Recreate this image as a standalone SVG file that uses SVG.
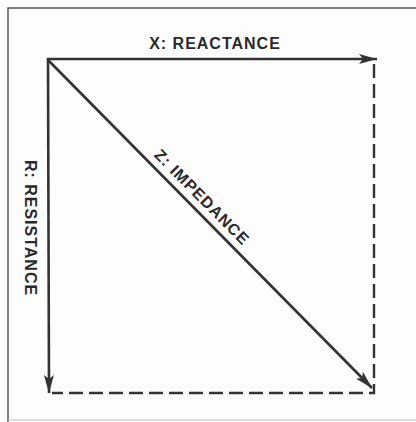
<svg xmlns="http://www.w3.org/2000/svg" width="416" height="422" viewBox="0 0 416 422">
<style>
.frame{fill:none;stroke:#555;stroke-width:1.5}
.vec{fill:none;stroke:#333;stroke-width:2.6}
.dash{fill:none;stroke:#333;stroke-width:2.4;stroke-dasharray:14 6}
.lbl{font-family:"Liberation Sans",Arial,sans-serif;font-weight:bold;font-size:16px;fill:#2a2a2a;letter-spacing:1px}
</style>
<defs>
<marker id="ah" viewBox="0 0 18 10" refX="18" refY="5" markerWidth="18" markerHeight="10" markerUnits="userSpaceOnUse" orient="auto">
<path d="M0,0 L18,5 L0,10 L4,5 Z" fill="#333"/>
</marker>
</defs>
<rect width="416" height="422" fill="#fdfdfd"/>
<g id="frame">
<path class="frame" d="M416,8 H8 V422"/>
<path d="M8,420 H416" stroke="#bbb" stroke-width="1" fill="none"/>
</g>
<g id="connectors">
<line id="reactance" class="vec" x1="47" y1="59" x2="377" y2="59" marker-end="url(#ah)"/>
<line id="resistance" class="vec" x1="48" y1="58" x2="49" y2="393" marker-end="url(#ah)"/>
<line id="impedance" class="vec" x1="48" y1="60" x2="372" y2="388" marker-end="url(#ah)"/>
<path id="completion" class="dash" d="M374,64 V393 H52"/>
</g>
<g id="labels">
<text class="lbl" x="215" y="49" text-anchor="middle">X: REACTANCE</text>
<text class="lbl" text-anchor="middle" transform="translate(25,228) rotate(90)">R: RESISTANCE</text>
<text class="lbl" text-anchor="middle" transform="translate(198,201) rotate(45.3)">Z: IMPEDANCE</text>
</g>
</svg>
